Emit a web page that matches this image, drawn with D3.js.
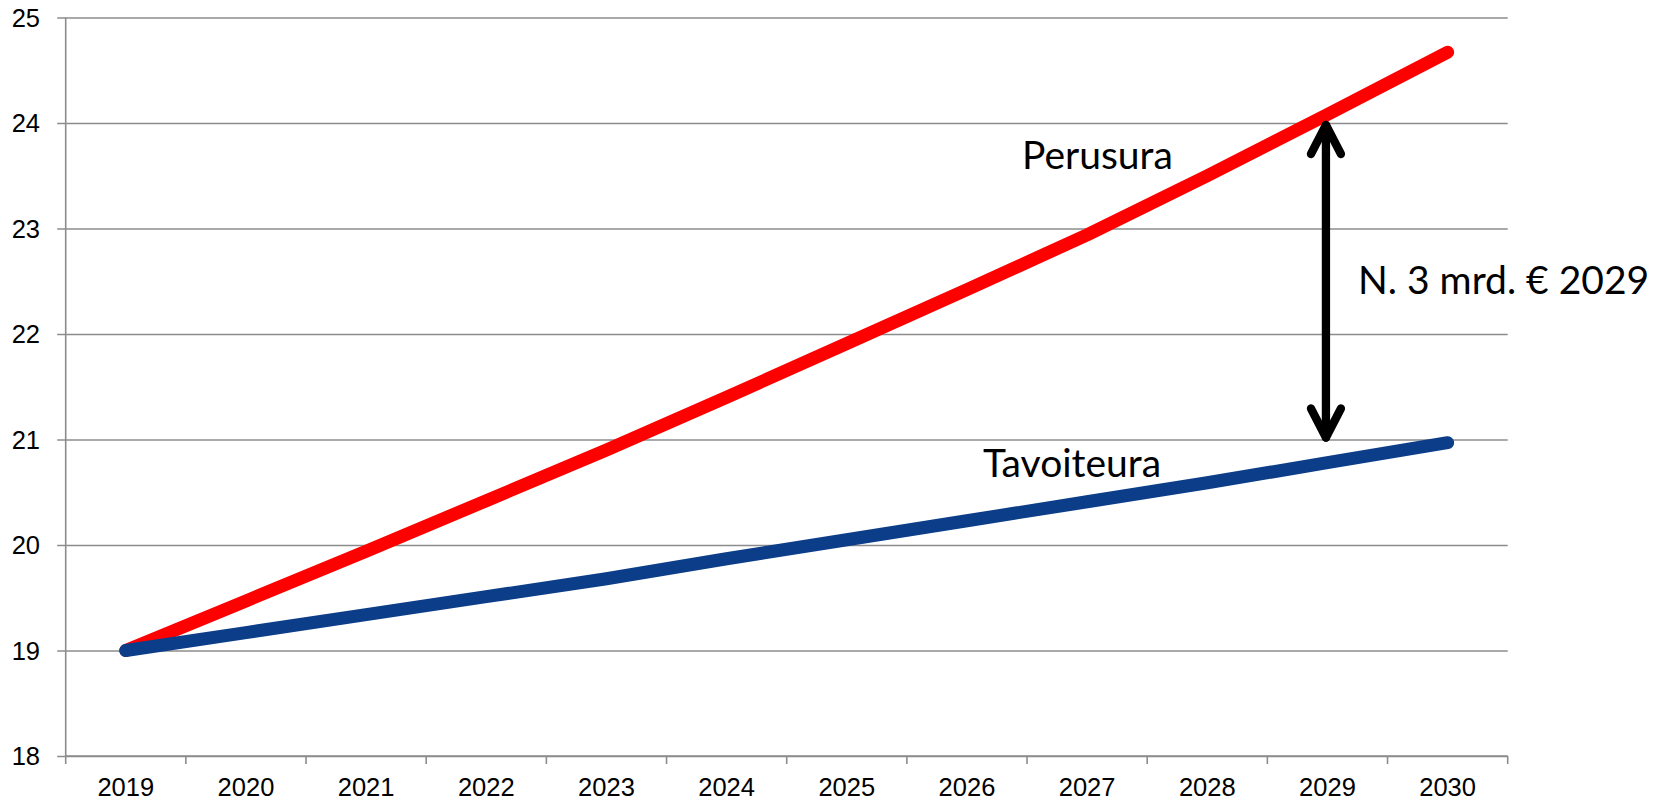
<!DOCTYPE html>
<html>
<head>
<meta charset="utf-8">
<script src="https://cdn.jsdelivr.net/npm/d3@7"></script>
<style>
  html, body { margin: 0; padding: 0; background: #ffffff; }
  svg { display: block; }
</style>
</head>
<body>
<svg id="chart" width="1657" height="801"></svg>
<script>
// ---- data ----
const years = ["2019","2020","2021","2022","2023","2024","2025","2026","2027","2028","2029","2030"];
const perusura = [19.00, 19.47, 19.94, 20.42, 20.90, 21.40, 21.91, 22.42, 22.94, 23.50, 24.08, 24.67];
const tavoiteura = [19.00, 19.17, 19.34, 19.51, 19.68, 19.87, 20.05, 20.23, 20.41, 20.59, 20.78, 20.97];
const yTicks = [18, 19, 20, 21, 22, 23, 24, 25];
const seriesNames = ["Perusura", "Tavoiteura"];
const gapLabel = "N. 3 mrd. € 2029";
const gapYear = "2029";
const gapFrom = 21;
const gapTo = 24;

// ---- layout ----
const mLeft = 65.7, mRight = 1507.7, mTop = 17.5, mBottom = 756;
const gridColor = "#8c8c8c";
const svg = d3.select("#chart");

const x = d3.scaleBand().domain(years).range([mLeft, mRight]).paddingInner(0).paddingOuter(0);
const cx = d => x(d) + x.bandwidth() / 2;
const y = d3.scaleLinear().domain([18, 25]).range([mBottom, mTop]);

// y axis with gridlines
const yAxis = d3.axisLeft(y).tickValues(yTicks).tickFormat(d3.format("d"))
  .tickSizeInner(-(mRight - mLeft)).tickSizeOuter(0).tickPadding(25.7);
const gy = svg.append("g").attr("transform", `translate(${mLeft},0)`).call(yAxis);
gy.select(".domain").remove();
gy.selectAll(".tick line").attr("x1", -8.5).attr("stroke", gridColor).attr("stroke-width", 1.6);
gy.selectAll(".tick text")
  .attr("font-family", "'Liberation Sans', Arial, sans-serif")
  .attr("font-size", 25.5).attr("fill", "#000").attr("dy", "0.35em");

// y axis line
svg.append("line").attr("x1", mLeft).attr("x2", mLeft).attr("y1", mTop).attr("y2", mBottom)
  .attr("stroke", gridColor).attr("stroke-width", 1.6);

// x axis
const xAxis = d3.axisBottom(x).tickSize(0).tickPadding(0);
const gx = svg.append("g").attr("transform", `translate(0,${mBottom})`).call(xAxis);
gx.select(".domain").remove();
gx.selectAll(".tick text")
  .attr("font-family", "'Liberation Sans', Arial, sans-serif")
  .attr("font-size", 25.5).attr("fill", "#000").attr("y", 40.2).attr("dy", 0);
svg.append("line").attr("x1", mLeft).attr("x2", mRight).attr("y1", mBottom).attr("y2", mBottom)
  .attr("stroke", gridColor).attr("stroke-width", 1.6);
const bounds = years.map(d => x(d)).concat([x(years[years.length - 1]) + x.bandwidth()]);
svg.append("g").selectAll("line").data(bounds).join("line")
  .attr("x1", d => d).attr("x2", d => d).attr("y1", mBottom).attr("y2", mBottom + 8)
  .attr("stroke", gridColor).attr("stroke-width", 1.6);

// lines
const line = d3.line().x((d, i) => cx(years[i])).y(d => y(d));
svg.append("path").datum(perusura).attr("d", line)
  .attr("fill", "none").attr("stroke", "#ff0000").attr("stroke-width", 13)
  .attr("stroke-linecap", "round").attr("stroke-linejoin", "round");
svg.append("path").datum(tavoiteura).attr("d", line)
  .attr("fill", "none").attr("stroke", "#0b3d89").attr("stroke-width", 13)
  .attr("stroke-linecap", "round").attr("stroke-linejoin", "round");

// double arrow
const ax = cx(gapYear) - 1.5, ay1 = y(gapTo), ay2 = y(gapFrom);
const ag = svg.append("g").attr("stroke", "#000").attr("stroke-width", 8.3)
  .attr("fill", "none").attr("stroke-linecap", "round").attr("stroke-linejoin", "round");
ag.append("line").attr("x1", ax).attr("x2", ax).attr("y1", ay1 + 2).attr("y2", ay2 - 2);
ag.append("path").attr("d", `M${ax - 15},${ay1 + 31} L${ax},${ay1 + 2} L${ax + 15},${ay1 + 31}`);
ag.append("path").attr("d", `M${ax - 15},${ay2 - 31} L${ax},${ay2 - 2} L${ax + 15},${ay2 - 31}`);

// annotations
const annFont = "Lato, 'Open Sans', sans-serif";
const annSize = 39;
svg.append("text").text(seriesNames[0]).attr("x", 1022).attr("y", 169.3)
  .attr("font-family", annFont).attr("font-size", annSize).attr("fill", "#000");
svg.append("text").text(seriesNames[1]).attr("x", 983).attr("y", 476.5)
  .attr("font-family", annFont).attr("font-size", annSize).attr("fill", "#000");
svg.append("text").text(gapLabel).attr("x", 1358).attr("y", 294.3)
  .attr("font-family", annFont).attr("font-size", annSize).attr("fill", "#000");
</script>
</body>
</html>
